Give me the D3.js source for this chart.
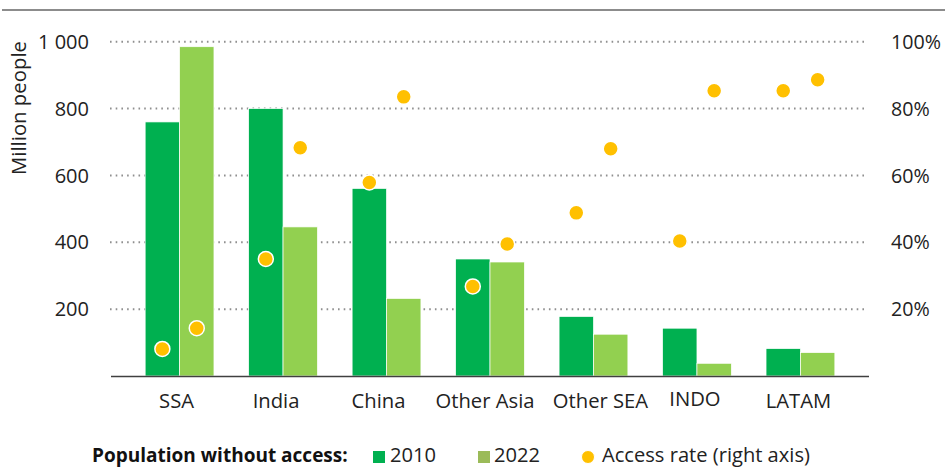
<!DOCTYPE html>
<html><head><meta charset="utf-8">
<script src="https://cdn.jsdelivr.net/npm/d3@7"></script>
<style>
html,body{margin:0;padding:0;background:#fff;}
svg{display:block;font-family:"Open Sans",Lato,sans-serif;}
</style></head>
<body>
<svg id="chart" width="945" height="469"></svg>
<script>
const categories = ["SSA","India","China","Other Asia","Other SEA","INDO","LATAM"];
const pop2010 = [760, 800, 561, 350, 178, 143, 82];
const pop2022 = [985, 446, 232, 341, 125, 38, 70];
const access2010 = [8.1, 35.0, 57.9, 26.8, 48.8, 40.4, 85.3];
const access2022 = [14.3, 68.3, 83.5, 39.5, 68.0, 85.3, 88.6];
const leftTicks = [200, 400, 600, 800, 1000];
const leftTickLabels = ["200", "400", "600", "800", "1 000"];
const rightTicks = [20, 40, 60, 80, 100];
const seriesNames = ["2010","2022"];

// layout-only: horizontal nudges of category labels, as placed in the original
const labelNudge = {"SSA": -3, "India": -7, "China": -8, "Other Asia": -5, "Other SEA": 7, "INDO": -2, "LATAM": -2};

const C2010 = "#00B050", C2022 = "#92D050", CDOT = "#FFC000", CLEG2022 = "#9BBB59";
const svg = d3.select("#chart");

function fit(sel, refNode, target, base) {
  const w = refNode.getComputedTextLength();
  const fs = base * target / w;
  sel.attr("font-size", fs);
  return fs;
}

const x0 = d3.scaleBand().domain(categories).range([111, 869]).paddingInner(0.335).paddingOuter(0.33);
const x1 = d3.scaleBand().domain(seriesNames).range([0, x0.bandwidth()]);
const yL = d3.scaleLinear().domain([0, 1000]).range([376, 41.7]);
const yR = d3.scaleLinear().domain([0, 100]).range([376, 41.7]);

// top rule
svg.append("line").attr("x1", 2).attr("x2", 945).attr("y1", 10).attr("y2", 10)
  .attr("stroke", "#8c8c8c").attr("stroke-width", 2);

// gridlines
svg.append("g").selectAll("line").data(leftTicks).join("line")
  .attr("x1", 110).attr("x2", 866)
  .attr("y1", d => yL(d)).attr("y2", d => yL(d))
  .attr("stroke", "#8f8f8f").attr("stroke-width", 2).attr("stroke-dasharray", "1.6 4.1");

// left axis labels
const lt = svg.append("g").selectAll("text").data(leftTicks).join("text")
  .attr("x", 89).attr("y", d => yL(d)).attr("dy", "0.36em")
  .attr("text-anchor", "end").attr("font-size", 20).attr("fill", "#222")
  .text((d, i) => leftTickLabels[i]);
fit(lt, lt.nodes()[4], 51, 20);

// right axis labels
const rt = svg.append("g").selectAll("text").data(rightTicks).join("text")
  .attr("x", 891).attr("y", d => yR(d)).attr("dy", "0.36em")
  .attr("text-anchor", "start").attr("font-size", 20).attr("fill", "#222")
  .text(d => d + "%");
fit(rt, rt.nodes()[4], 50, 20);

// y title
const yt = svg.append("text").attr("transform", "translate(26,108) rotate(-90)")
  .attr("text-anchor", "middle").attr("font-size", 20).attr("fill", "#222")
  .text("Million people");
fit(yt, yt.node(), 134, 20);

// bars
const rows = categories.map((c, i) => ({c, vals: [pop2010[i], pop2022[i]], acc: [access2010[i], access2022[i]]}));
const g = svg.append("g").selectAll("g").data(rows).join("g")
  .attr("transform", d => `translate(${x0(d.c)},0)`);
g.selectAll("rect").data(d => d.vals.map((v, j) => ({k: seriesNames[j], v}))).join("rect")
  .attr("x", d => x1(d.k)).attr("width", x1.bandwidth())
  .attr("y", d => yL(d.v)).attr("height", d => yL(0) - yL(d.v))
  .attr("fill", d => d.k === "2010" ? C2010 : C2022)
  .attr("stroke", "#fff").attr("stroke-width", 0.7);

// baseline
svg.append("line").attr("x1", 111).attr("x2", 869).attr("y1", 376.5).attr("y2", 376.5)
  .attr("stroke", "#404040").attr("stroke-width", 1.5);

// dots
g.selectAll("circle").data(d => d.acc.map((v, j) => ({k: seriesNames[j], v}))).join("circle")
  .attr("cx", d => x1(d.k) + x1.bandwidth() / 2).attr("cy", d => yR(d.v)).attr("r", 7.5)
  .attr("fill", CDOT).attr("stroke", "#fff").attr("stroke-width", 1.5);

// category labels
const ct = svg.append("g").selectAll("text").data(categories).join("text")
  .attr("x", d => x0(d) + x0.bandwidth() / 2 + (labelNudge[d] || 0))
  .attr("y", d => d === "INDO" ? 406 : 408)
  .attr("text-anchor", "middle").attr("font-size", 20).attr("fill", "#222")
  .text(d => d);
fit(ct, ct.nodes()[3], 99, 20);

// legend
const leg = svg.append("g");
const lt0 = leg.append("text").attr("x", 92).attr("y", 462).attr("font-size", 20).attr("font-weight", "bold").attr("fill", "#111")
  .text("Population without access:");
fit(lt0, lt0.node(), 256, 20);
leg.append("rect").attr("x", 373).attr("y", 451).attr("width", 12).attr("height", 12).attr("fill", C2010);
const l1 = leg.append("text").attr("x", 390).attr("y", 462).attr("fill", "#222").text(seriesNames[0]);
leg.append("rect").attr("x", 478).attr("y", 451).attr("width", 12).attr("height", 12).attr("fill", CLEG2022);
const l2 = leg.append("text").attr("x", 494).attr("y", 462).attr("fill", "#222").text(seriesNames[1]);
leg.append("circle").attr("cx", 588).attr("cy", 457).attr("r", 6.5).attr("fill", CDOT).attr("stroke", "#fff").attr("stroke-width", 1);
const l3 = leg.append("text").attr("x", 602).attr("y", 462).attr("font-size", 20).attr("fill", "#222").text("Access rate (right axis)");
const fsL = fit(l3, l3.node(), 208, 20);
l1.attr("font-size", fsL); l2.attr("font-size", fsL);
</script>
</body></html>
